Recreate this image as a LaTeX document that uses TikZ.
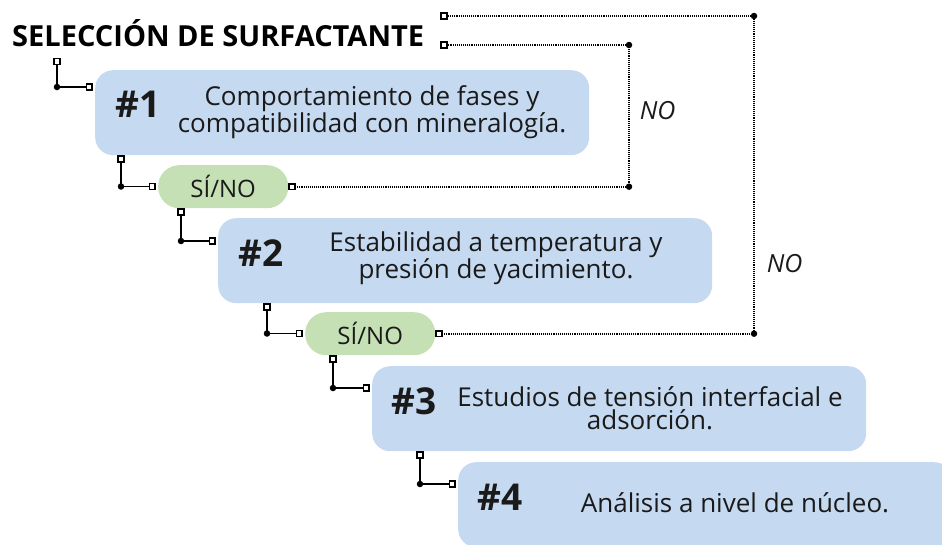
\documentclass[tikz,border=0pt]{standalone}
\usepackage{fontspec}
\setmainfont{Open Sans}
\usetikzlibrary{arrows.meta}
\usetikzlibrary{positioning}
\usetikzlibrary{calc}
\definecolor{boxblue}{RGB}{197,217,241}
\definecolor{pillgreen}{RGB}{197,224,180}
\definecolor{ink}{RGB}{26,26,26}
\tikzstyle{box}=[rounded corners=18pt,fill=boxblue,minimum width=494pt,minimum height=85pt,inner sep=0pt]
\tikzstyle{pill}=[rounded corners=21pt,fill=pillgreen,minimum width=130pt,minimum height=43pt,inner sep=0pt,text=ink,font=\fontsize{24}{26}\selectfont]
\tikzstyle{num}=[text=ink,inner sep=0pt,font=\bfseries\fontsize{37}{40}\selectfont]
\tikzstyle{desc}=[align=center,text=ink,inner sep=0pt,font=\fontsize{26}{23.5}\selectfont]
\tikzstyle{link}=[line width=1.6pt,{Square[open,length=7.5pt,width=7.5pt]}-{Square[open,length=7.5pt,width=7.5pt]}]
\tikzstyle{noline}=[link,dash pattern=on 1.1pt off 1pt]
\tikzstyle{dot}=[circle,fill=black,inner sep=0pt,minimum size=6.5pt]
\tikzstyle{nolabel}=[text=ink,inner sep=0pt,font=\itshape\fontsize{25}{27}\selectfont]

\begin{document}
\begin{tikzpicture}[x=1pt,y=-1pt]

   \useasboundingbox (0,0) rectangle (942,544);

  \node[anchor=west,inner sep=0pt,font=\bfseries\fontsize{29}{31}\selectfont] (title) at (12,33) {SELECCIÓN DE SURFACTANTE};

    \foreach \pos/\name in {{(95,70)/c1}, {(218,218)/c2}, {(372,366)/c3}, {(458,462)/c4}}
        \node[box,anchor=north west] (\name) at \pos {};
    \foreach \pos/\name in {{(158,165)/sn1}, {(305,312)/sn2}}
        \node[pill,anchor=north west] (\name) at \pos {SÍ/NO};

\node[num] (n1) at (138,104) {\#1};
\node[num] (n2) at (261,253) {\#2};
\node[num] (n3) at (414,401) {\#3};
\node[num] (n4) at (500,497) {\#4};

\node[desc] (d1) at (372,112) {Comportamiento de fases y\\compatibilidad con mineralogía.};
\node[desc] (d2) at (496,258) {Estabilidad a temperatura y\\presión de yacimiento.};
\node[desc] (d3) at (650,408) {Estudios de tensión interfacial e\\adsorción.};
\node[desc] (d4) at (735,503) {Análisis a nivel de núcleo.};

  % pasos
\draw[link] ([xshift=45pt,yshift=-11pt]title.south west) |- node[dot]{} ([xshift=-2pt,yshift=-17pt]c1.north west);
    \foreach \src/\dst/\dx/\dy in {c1/sn1/26/21.5, sn1/c2/23/23, c2/sn2/49/21.5, sn2/c3/28/22, c3/c4/48/22}
        \draw[link] ([xshift=\dx pt]\src.south west) |- node[dot]{} ([xshift=-2pt,yshift=-\dy pt]\dst.north west);

  % retorno NO
\coordinate (k1) at (629,45);
\coordinate (t1) at (440,45);
\coordinate (k2) at (754,16);
\coordinate (t2) at (440,16);
\draw[noline] (sn1.east) -| node[dot]{} node[pos=0.77,right=10pt,nolabel]{NO} (k1) node[dot]{} -- (t1);
\draw[noline] (sn2.east) -| node[dot]{} node[pos=0.61,right=12pt,nolabel]{NO} (k2) node[dot]{} -- (t2);

\end{tikzpicture}
\end{document}
